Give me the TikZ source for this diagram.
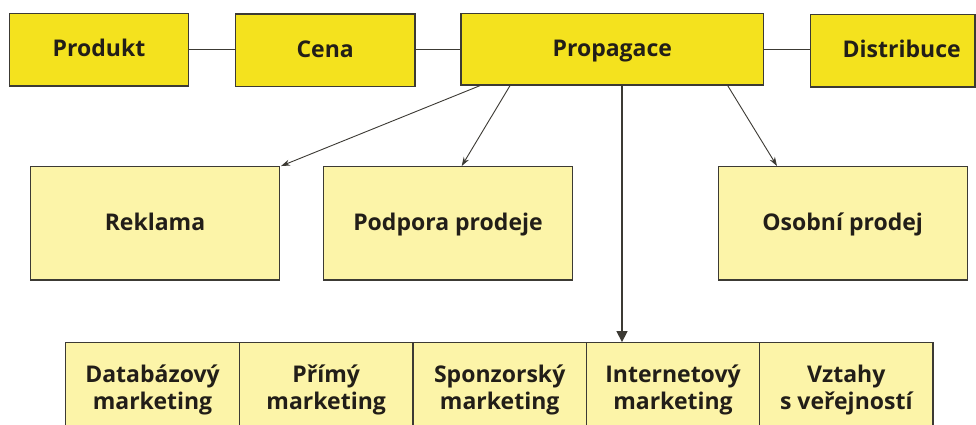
\documentclass[tikz,border=0pt]{standalone}
\usepackage{fontspec}
\setmainfont{Open Sans}
\usetikzlibrary{arrows.meta,calc}
\definecolor{topyel}{HTML}{F4E21E}
\definecolor{paleyel}{HTML}{FCF4A8}
\definecolor{edgec}{HTML}{3C3A34}
\definecolor{txtc}{HTML}{221E18}
\tikzset{
  topbox/.style={draw=edgec, line width=1.2pt, fill=topyel, minimum height=72.7pt, inner sep=0pt, text height=17pt, text depth=2.5pt, text=txtc, font=\fontsize{23}{27}\selectfont\bfseries},
  midbox/.style={draw=edgec, line width=1.2pt, fill=paleyel, minimum width=248.8pt, minimum height=113.3pt, inner sep=0pt, text height=17pt, text depth=3pt, text=txtc, font=\fontsize{23}{27}\selectfont\bfseries},
  botbox/.style={draw=edgec, line width=1.2pt, fill=paleyel, minimum width=173.5pt, minimum height=95pt, inner sep=0pt, text=txtc, align=center, font=\fontsize{23}{27}\selectfont\bfseries},
  link/.style={draw=edgec, line width=1pt},
  thinarrow/.style={draw=edgec, line width=0.9pt, -{Stealth[length=9pt,width=6pt]}},
  mainarrow/.style={draw=edgec, line width=1.4pt, -{Triangle[length=11pt,width=11pt]}}
}
\begin{document}
\begin{tikzpicture}[x=1pt,y=-1pt]
\useasboundingbox (0,0) rectangle (976,425);
\clip (0,0) rectangle (976,425);
\fill[white] (0,0) rectangle (976,425);
% top row
\node[topbox, minimum width=179.4pt] (prod) at (99,49.7) {Produkt};
\node[topbox, minimum width=179.7pt] (cena) at (325.2,50.3) {Cena};
\node[topbox, minimum width=302.7pt, minimum height=71.7pt] (prop) at (612.3,49.2) {Propagace};
\node[topbox, minimum width=164.7pt] (dist) at (892.7,50.7) {\hspace*{18pt}Distribuce};
\draw[link] (prod.east |- 0,50) -- (cena.west |- 0,50);
\draw[link] (cena.east |- 0,50) -- (prop.west |- 0,50);
\draw[link] (prop.east |- 0,50) -- (dist.west |- 0,50);
% middle row
\node[midbox] (rekl) at (155,223.3) {Reklama};
\node[midbox] (podp) at (448,223.3) {Podpora prodeje};
\node[midbox] (osob) at (842.7,223.3) {Osobní prodej};
% bottom row
\node[botbox] (data) at (152.5,390.2) {Databázový\\marketing};
\node[botbox] (prim) at (326.2,390.2) {Přímý\\marketing};
\node[botbox] (spon) at (499.7,390.2) {Sponzorský\\marketing};
\node[botbox] (inet) at (673.0,390.2) {Internetový\\marketing};
\node[botbox] (vzta) at (846.3,390.2) {Vztahy\\s veřejností};
% connectors
\coordinate (s1) at ([xshift=-132.3pt]prop.south);
\coordinate (s2) at ([xshift=-102.3pt]prop.south);
\coordinate (s3) at ([xshift=9.7pt]prop.south);
\coordinate (s4) at ([xshift=115.4pt]prop.south);
\draw[thinarrow] (s1) -- ([xshift=1pt]rekl.north east);
\draw[thinarrow] (s2) -- ([xshift=13.7pt]podp.north);
\draw[mainarrow] (s3) -- (s3 |- inet.north);
\draw[thinarrow] (s4) -- ([xshift=-65.7pt]osob.north);
\end{tikzpicture}
\end{document}
